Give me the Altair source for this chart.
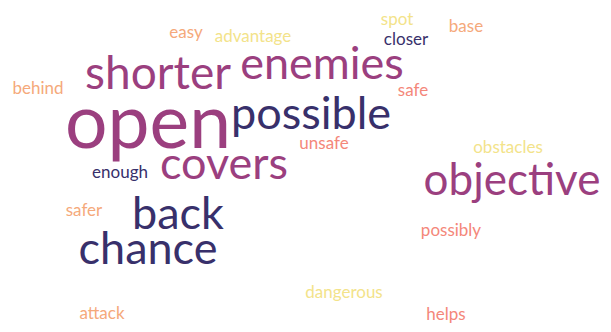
import altair as alt
import pandas as pd

words = ["open", "shorter", "enemies", "possible", "covers", "objective", "back", "chance",
         "easy", "advantage", "behind", "spot", "base", "closer", "safe", "unsafe",
         "obstacles", "enough", "safer", "possibly", "dangerous", "helps", "attack"]
x_pos = [148, 158, 322, 311, 224, 512, 178, 148,
         186, 253, 38, 397, 466, 406, 413, 324,
         508, 120, 84, 451, 344, 446, 102]
y_pos = [125, 75, 65, 115, 165, 182, 215, 250,
         33, 37, 89, 20, 27, 40, 91, 144,
         148, 173, 211, 231, 293, 315, 314]
sizes = [75, 46, 45, 45, 45, 44, 45, 45,
         17, 17, 17, 17, 17, 17, 17, 17,
         17, 17, 17, 17, 17, 17, 17]
groups = ["purple", "purple", "purple", "navy", "purple", "purple", "navy", "navy",
          "orange", "yellow", "orange", "yellow", "orange", "navy", "salmon", "salmon",
          "yellow", "navy", "orange", "salmon", "yellow", "salmon", "orange"]

group_names = ["navy", "purple", "salmon", "orange", "yellow"]
group_colors = ["#38306b", "#9b3f7f", "#f4877a", "#f5a97b", "#f3e38a"]

df = pd.DataFrame({"word": words, "x": x_pos, "y": y_pos, "size": sizes, "group": groups})

chart = alt.Chart(df).mark_text(font="Lato", baseline="middle", align="center").encode(
    x=alt.X("x:Q", scale=alt.Scale(domain=[8, 603], nice=False, zero=False), axis=None),
    y=alt.Y("y:Q", scale=alt.Scale(domain=[8, 324], nice=False, zero=False, reverse=True), axis=None),
    text="word:N",
    size=alt.Size("size:Q", scale=None, legend=None),
    color=alt.Color("group:N", scale=alt.Scale(domain=group_names, range=group_colors), legend=None),
).properties(
    width=595, height=316, padding=0, autosize="none", background="white"
).configure_view(stroke=None)

chart.save("out.html", embed_options={"renderer": "svg", "actions": False})
